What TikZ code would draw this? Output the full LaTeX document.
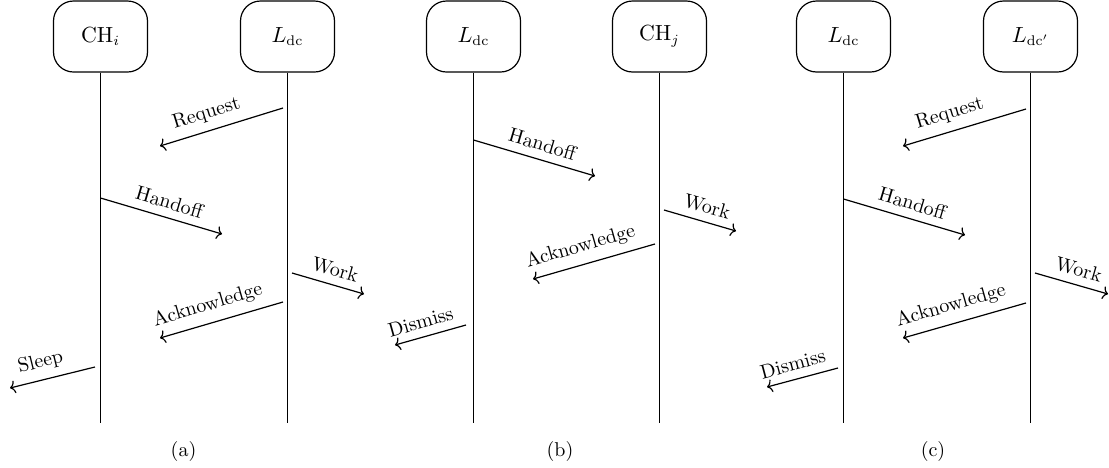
\documentclass[tikz,border=0pt]{standalone}
\usetikzlibrary{arrows.meta}
\begin{document}
\begin{tikzpicture}[x=0.5pt,y=-0.5pt,
  actor/.style={draw, line width=0.6pt, rounded corners=10pt, minimum width=47pt, minimum height=35.5pt, inner sep=0pt, font=\fontsize{10.5}{12}\selectfont},
  life/.style={line width=0.6pt},
  msg/.style={line width=0.6pt, -{To[length=2.6pt,width=6.5pt]}},
  lbl/.style={sloped, above, font=\fontsize{10}{12}\selectfont, inner sep=4pt},
  captxt/.style={font=\fontsize{10}{12}\selectfont}]
\useasboundingbox (0,0) rectangle (1109,467);
% actors
\node[actor] (a1) at (100.5,36.5) {$\mathrm{CH}_i$};
\node[actor] (a2) at (287.5,36.5) {$L_{\mathrm{dc}}$};
\node[actor] (b1) at (473.5,36.5) {$L_{\mathrm{dc}}$};
\node[actor] (b2) at (659.5,36.5) {$\mathrm{CH}_j$};
\node[actor] (c1) at (843.5,36.5) {$L_{\mathrm{dc}}$};
\node[actor] (c2) at (1030.5,36.5) {$L_{\mathrm{dc}'}$};
% lifeline ends
\coordinate (a1e) at (100.5,423);
\coordinate (a2e) at (287.5,423);
\coordinate (b1e) at (473.5,423);
\coordinate (b2e) at (659.5,423);
\coordinate (c1e) at (843.5,423);
\coordinate (c2e) at (1030.5,423);
\draw[life] (a1.south) -- (a1e);
\draw[life] (a2.south) -- (a2e);
\draw[life] (b1.south) -- (b1e);
\draw[life] (b2.south) -- (b2e);
\draw[life] (c1.south) -- (c1e);
\draw[life] (c2.south) -- (c2e);
% (a) messages
\coordinate (aRs) at (283,108); \coordinate (aRe) at (160,146);
\coordinate (aHs) at (100.5,198); \coordinate (aHe) at (222,234);
\coordinate (aWs) at (292,273); \coordinate (aWe) at (364,294);
\coordinate (aAs) at (283,302); \coordinate (aAe) at (160,338);
\coordinate (aSs) at (95,367);  \coordinate (aSe) at (10,388);
\draw[msg] (aRs) -- node[lbl, pos=0.58] {Request} (aRe);
\draw[msg] (aHs) -- node[lbl, pos=0.53] {Handoff} (aHe);
\draw[msg] (aWs) -- node[lbl, pos=0.54] {Work} (aWe);
\draw[msg] (aAs) -- node[lbl, pos=0.57] {Acknowledge} (aAe);
\draw[msg] (aSs) -- node[lbl, pos=0.59] {Sleep} (aSe);
% (b) messages
\coordinate (bHs) at (473.5,140); \coordinate (bHe) at (595,176);
\coordinate (bWs) at (664,210);   \coordinate (bWe) at (736,231);
\coordinate (bAs) at (655,244);   \coordinate (bAe) at (533,279);
\coordinate (bDs) at (466,325);   \coordinate (bDe) at (395,345);
\draw[msg] (bHs) -- node[lbl, pos=0.53] {Handoff} (bHe);
\draw[msg] (bWs) -- node[lbl, pos=0.54] {Work} (bWe);
\draw[msg] (bAs) -- node[lbl, pos=0.57] {Acknowledge} (bAe);
\draw[msg] (bDs) -- node[lbl, pos=0.58] {Dismiss} (bDe);
% (c) messages
\coordinate (cRs) at (1026,109);  \coordinate (cRe) at (903,146);
\coordinate (cHs) at (843.5,199); \coordinate (cHe) at (965,235);
\coordinate (cWs) at (1035,273);  \coordinate (cWe) at (1108,294);
\coordinate (cAs) at (1026,303);  \coordinate (cAe) at (903,338);
\coordinate (cDs) at (838,368);   \coordinate (cDe) at (767,387);
\draw[msg] (cRs) -- node[lbl, pos=0.58] {Request} (cRe);
\draw[msg] (cHs) -- node[lbl, pos=0.53] {Handoff} (cHe);
\draw[msg] (cWs) -- node[lbl, pos=0.54] {Work} (cWe);
\draw[msg] (cAs) -- node[lbl, pos=0.57] {Acknowledge} (cAe);
\draw[msg] (cDs) -- node[lbl, pos=0.58] {Dismiss} (cDe);
% captions
\node[captxt] (capa) at (183.5,451) {(a)};
\node[captxt] (capb) at (560,451) {(b)};
\node[captxt] (capc) at (933,451) {(c)};
\end{tikzpicture}
\end{document}
